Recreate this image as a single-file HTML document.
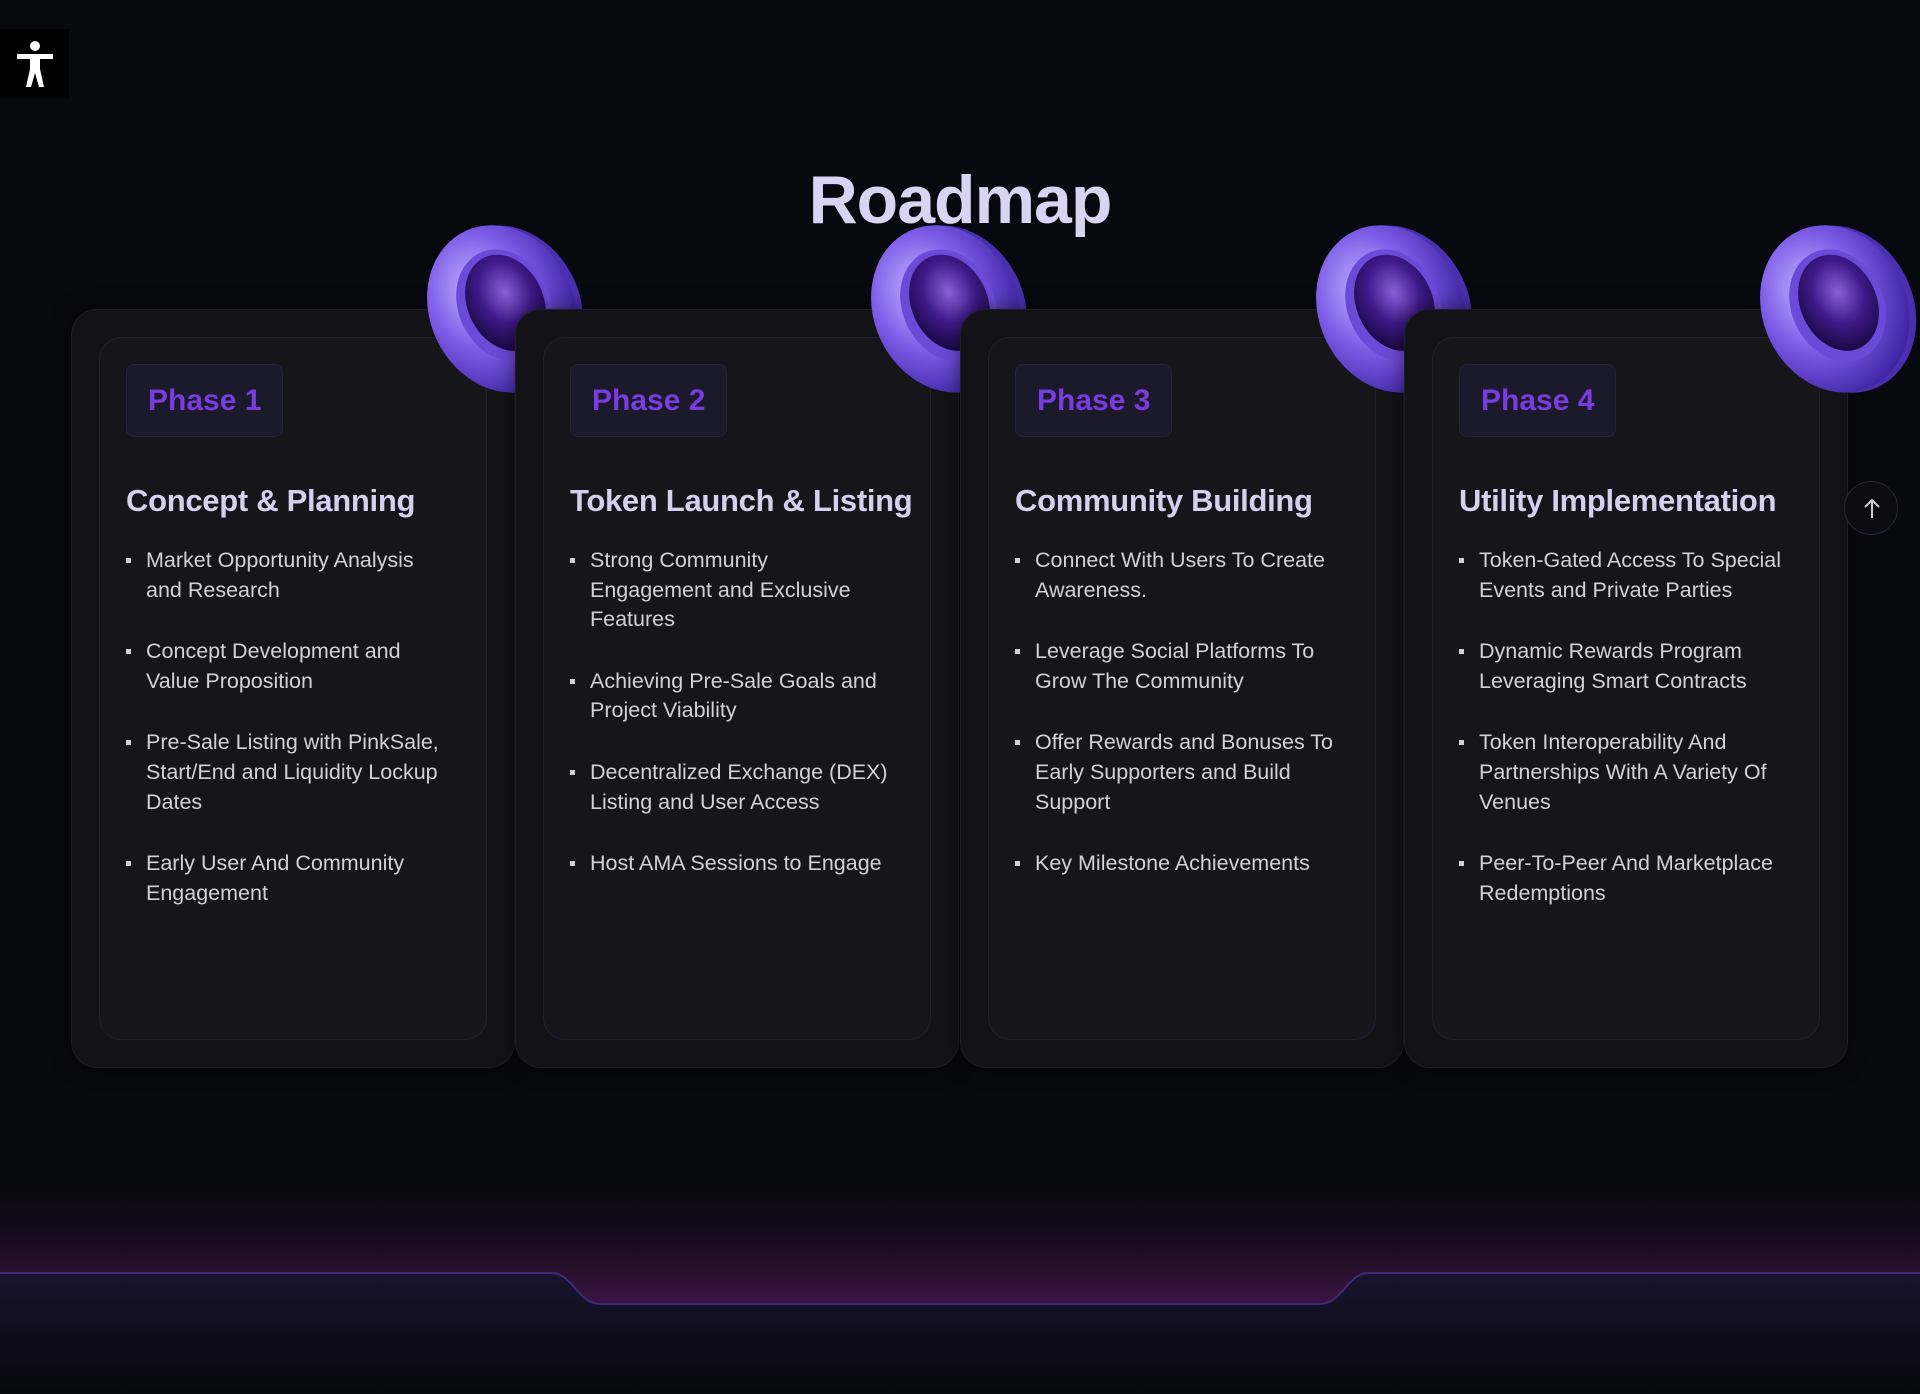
<!DOCTYPE html>
<html><head><meta charset="utf-8"><style>
*{margin:0;padding:0;box-sizing:border-box}
body{width:1920px;height:1394px;background:#08080f;position:relative;overflow:hidden;font-family:"Liberation Sans",sans-serif}
.acc{position:absolute;left:0;top:29px;width:69px;height:69px;background:#000;display:flex;align-items:center;justify-content:center}
h1{position:absolute;top:161px;left:0;width:1920px;text-align:center;font-size:68px;font-weight:bold;color:#d8d4f2;letter-spacing:-1px}
.card{position:absolute;top:309px;width:444px;height:759px;background:#131217;border:1px solid #1f1d2a;border-radius:26px;box-shadow:0 0 20px rgba(0,0,0,.5)}
.inner{position:absolute;left:27px;top:27px;right:27px;bottom:27px;border:1px solid #201e33;border-radius:22px;background:#16151a}
.badge{position:absolute;left:26px;top:26px;height:73px;padding:0 21px;border:1px solid #25223a;border-radius:8px;background:#1b1a2a;color:#7a3be0;font-weight:bold;font-size:30px;line-height:71px}
.ttl{position:absolute;left:26px;top:145px;font-size:31px;font-weight:bold;color:#d4d0ee;white-space:nowrap;letter-spacing:-.3px}
ul{position:absolute;left:26px;top:208px;right:38px;list-style:none}
li{position:relative;padding-left:20px;color:#d2d1da;font-size:21.5px;line-height:29.6px;margin-bottom:32px}
li:before{content:"";position:absolute;left:0;top:12px;width:5px;height:5px;background:#d2d1da}
.coin{position:absolute;top:218px;width:165px;height:182px}
.up{position:absolute;left:1844px;top:481px;width:54px;height:54px;border-radius:50%;border:1px solid #2a2838;background:#0d0c14}
</style></head><body>
<div class="acc"><svg width="44" height="50" viewBox="0 0 44 50"><circle cx="22" cy="7" r="5" fill="#fff"/><path d="M4 15h36v5H27v10l4 18h-5l-4-14-4 14h-5l4-18V20H4z" fill="#fff"/></svg></div>
<h1>Roadmap</h1>

<svg width="0" height="0" style="position:absolute"><defs>
<radialGradient id="rg" cx="40%" cy="35%" r="70%"><stop offset="0" stop-color="#c9b8ff"/><stop offset=".5" stop-color="#7d5ce8"/><stop offset="1" stop-color="#3b1f9c"/></radialGradient>
<radialGradient id="ig" cx="55%" cy="40%" r="65%"><stop offset="0" stop-color="#8a5fd8"/><stop offset=".5" stop-color="#3f1a8a"/><stop offset="1" stop-color="#14073a"/></radialGradient>
</defs></svg>

<div class="card" style="left:71px"><div class="inner"><div class="badge">Phase 1</div><div class="ttl">Concept &amp; Planning</div><ul>
<li>Market Opportunity Analysis and Research</li><li>Concept Development and Value Proposition</li><li>Pre-Sale Listing with PinkSale, Start/End and Liquidity Lockup Dates</li><li>Early User And Community Engagement</li></ul></div></div>
<svg class="coin" style="left:422px" viewBox="0 0 165 182"><g transform="rotate(-25 82 91)"><ellipse cx="86" cy="93" rx="72" ry="86" fill="#4a2fb0"/><ellipse cx="80" cy="90" rx="72" ry="86" fill="url(#rg)"/><ellipse cx="84" cy="88" rx="46" ry="58" fill="#6c4ad8"/><ellipse cx="86" cy="86" rx="38" ry="50" fill="url(#ig)"/></g></svg>

<div class="card" style="left:515px"><div class="inner"><div class="badge">Phase 2</div><div class="ttl">Token Launch &amp; Listing</div><ul>
<li>Strong Community Engagement and Exclusive Features</li><li>Achieving Pre-Sale Goals and Project Viability</li><li>Decentralized Exchange (DEX) Listing and User Access</li><li>Host AMA Sessions to Engage</li></ul></div></div>
<svg class="coin" style="left:866px" viewBox="0 0 165 182"><g transform="rotate(-25 82 91)"><ellipse cx="86" cy="93" rx="72" ry="86" fill="#4a2fb0"/><ellipse cx="80" cy="90" rx="72" ry="86" fill="url(#rg)"/><ellipse cx="84" cy="88" rx="46" ry="58" fill="#6c4ad8"/><ellipse cx="86" cy="86" rx="38" ry="50" fill="url(#ig)"/></g></svg>

<div class="card" style="left:960px"><div class="inner"><div class="badge">Phase 3</div><div class="ttl">Community Building</div><ul>
<li>Connect With Users To Create Awareness.</li><li>Leverage Social Platforms To Grow The Community</li><li>Offer Rewards and Bonuses To Early Supporters and Build Support</li><li>Key Milestone Achievements</li></ul></div></div>
<svg class="coin" style="left:1311px" viewBox="0 0 165 182"><g transform="rotate(-25 82 91)"><ellipse cx="86" cy="93" rx="72" ry="86" fill="#4a2fb0"/><ellipse cx="80" cy="90" rx="72" ry="86" fill="url(#rg)"/><ellipse cx="84" cy="88" rx="46" ry="58" fill="#6c4ad8"/><ellipse cx="86" cy="86" rx="38" ry="50" fill="url(#ig)"/></g></svg>

<div class="card" style="left:1404px"><div class="inner"><div class="badge">Phase 4</div><div class="ttl">Utility Implementation</div><ul>
<li>Token-Gated Access To Special Events and Private Parties</li><li>Dynamic Rewards Program Leveraging Smart Contracts</li><li>Token Interoperability And Partnerships With A Variety Of Venues</li><li>Peer-To-Peer And Marketplace Redemptions</li></ul></div></div>
<svg class="coin" style="left:1755px" viewBox="0 0 165 182"><g transform="rotate(-25 82 91)"><ellipse cx="86" cy="93" rx="72" ry="86" fill="#4a2fb0"/><ellipse cx="80" cy="90" rx="72" ry="86" fill="url(#rg)"/><ellipse cx="84" cy="88" rx="46" ry="58" fill="#6c4ad8"/><ellipse cx="86" cy="86" rx="38" ry="50" fill="url(#ig)"/></g></svg>

<div class="up"><svg width="54" height="54" viewBox="0 0 54 54"><path d="M27 18v18M20 25l7-7 7 7" stroke="#ccc" stroke-width="2" fill="none"/></svg></div>

<svg style="position:absolute;left:0;top:1160px" width="1920" height="234" viewBox="0 0 1920 234">
<defs><linearGradient id="gl" x1="0" y1="0" x2="0" y2="1"><stop offset="0" stop-color="#08080f" stop-opacity="0"/><stop offset="1" stop-color="#3e1545"/></linearGradient>
<linearGradient id="bd" x1="0" y1="0" x2="0" y2="1"><stop offset="0" stop-color="#181430"/><stop offset=".5" stop-color="#0f0d1c"/><stop offset="1" stop-color="#08080f"/></linearGradient></defs>
<rect x="0" y="0" width="1920" height="146" fill="url(#gl)"/>
<path d="M0 113H552C572 113 578 144 600 144H1320C1342 144 1348 113 1368 113H1920V234H0Z" fill="url(#bd)"/>
<path d="M0 113H552C572 113 578 144 600 144H1320C1342 144 1348 113 1368 113H1920" stroke="#3d2a78" stroke-width="2" fill="none"/>
</svg>
</body></html>
